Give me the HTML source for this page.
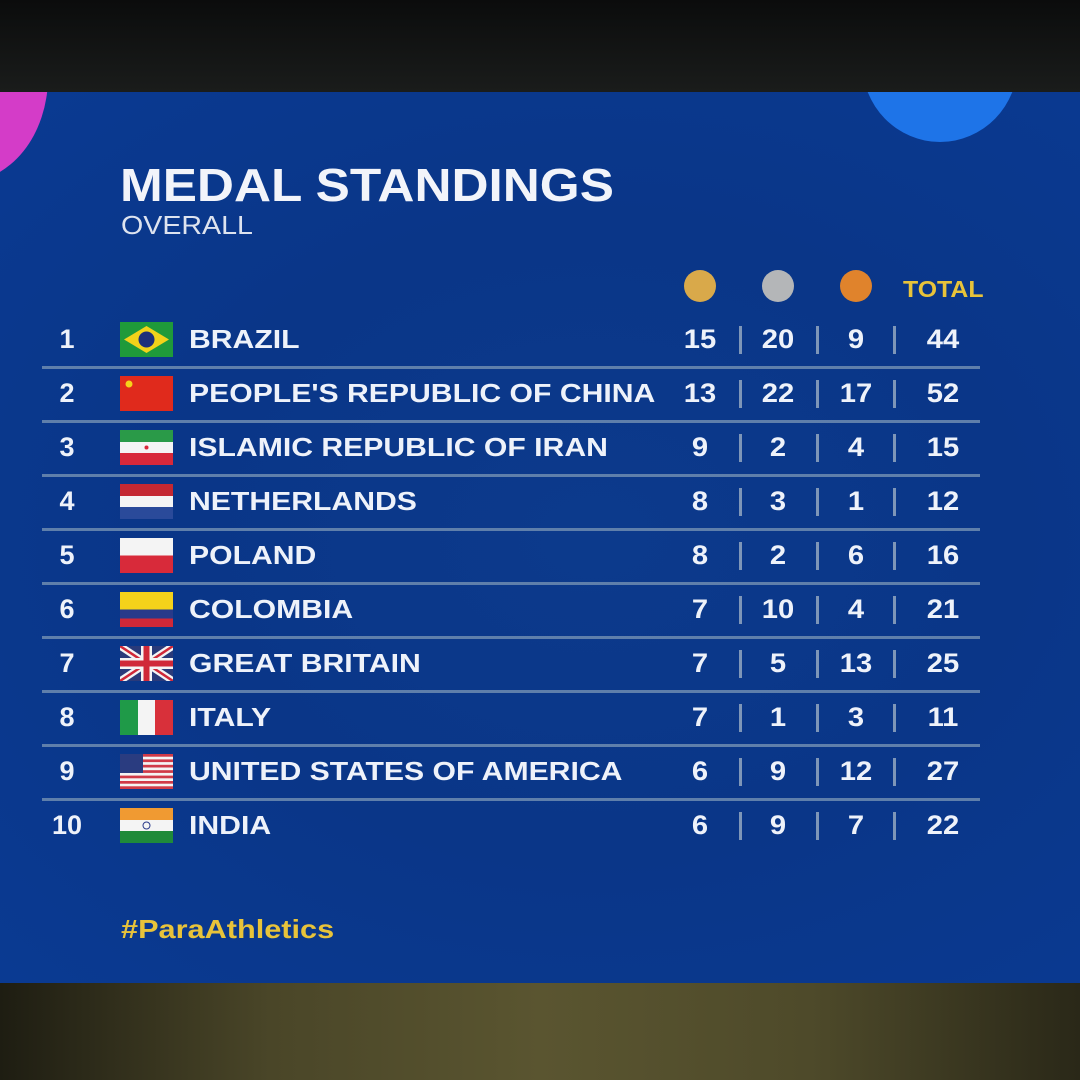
<!DOCTYPE html>
<html><head><meta charset="utf-8"><style>
*{margin:0;padding:0;box-sizing:border-box}
body{width:1080px;height:1080px;position:relative;overflow:hidden;background:#0d0f10;font-family:"Liberation Sans",sans-serif}
#top{position:absolute;left:0;top:0;width:1080px;height:92px;background:linear-gradient(#0b0c0c,#1a1c1b)}
#bot{position:absolute;left:0;top:983px;width:1080px;height:97px;background:linear-gradient(90deg,#1e1d12 0%,#4a4628 25%,#5a5530 50%,#4e4a2a 75%,#2a2818 100%)}
#panel{position:absolute;left:0;top:92px;width:1080px;height:891px;background:radial-gradient(ellipse at 55% 50%,#0c3a8c 0%,#0a3688 50%,#0a3a92 100%);overflow:hidden}
.pink{position:absolute;left:-120px;top:-120px;width:168px;height:210px;border-radius:50%;background:#d43cc8}
.blue{position:absolute;left:862px;top:-110px;width:156px;height:160px;border-radius:50%;background:#1e74e8}
.t{position:absolute;color:#f2f4fa;font-weight:bold;white-space:nowrap;transform-origin:left center}
.line{position:absolute;left:42px;width:938px;height:3px;background:#5f7fab}
.sep{position:absolute;width:3px;height:28px;background:#7e96b8}
.num{position:absolute;width:70px;text-align:center;color:#eef2fa;font-weight:bold;font-size:27px;transform:scaleX(1.08)}
.rk{position:absolute;width:50px;text-align:center;color:#eef2fa;font-weight:bold;font-size:27px;left:42px}
.nm{position:absolute;left:189px;color:#eef2fa;font-weight:bold;font-size:26px;white-space:nowrap;transform:scaleX(1.16);transform-origin:left center}
.fl{position:absolute;left:120px;width:53px;height:35px}
.dot{position:absolute;width:32px;height:32px;border-radius:50%;top:270px}
</style></head><body>
<div id="top"></div>
<div id="panel"><div class="pink"></div><div class="blue"></div></div>
<div id="bot"></div>
<div class="t" style="left:120px;top:158px;font-size:46px;transform:scaleX(1.115)">MEDAL STANDINGS</div>
<div class="t" style="left:121px;top:210px;font-size:26px;font-weight:normal;color:#dde3ef;transform:scaleX(1.1)">OVERALL</div>
<div class="dot" style="left:684px;background:#d9a94a"></div>
<div class="dot" style="left:762px;background:#b4b6b8"></div>
<div class="dot" style="left:840px;background:#e0832c"></div>
<div class="t" style="left:903px;top:276px;font-size:23px;color:#e8c33a;transform:scaleX(1.08)">TOTAL</div>
<div class="t" style="left:121px;top:914px;font-size:26px;color:#e8c33a;transform:scaleX(1.18)">#ParaAthletics</div>
<div id="rows"></div>
<script>
var d=[["BRAZIL",15,20,9,44],["PEOPLE'S REPUBLIC OF CHINA",13,22,17,52],["ISLAMIC REPUBLIC OF IRAN",9,2,4,15],["NETHERLANDS",8,3,1,12],["POLAND",8,2,6,16],["COLOMBIA",7,10,4,21],["GREAT BRITAIN",7,5,13,25],["ITALY",7,1,3,11],["UNITED STATES OF AMERICA",6,9,12,27],["INDIA",6,9,7,22]];
var f=[
'<rect width="53" height="35" fill="#1f9a3a"/><polygon points="26.5,4 49,17.5 26.5,31 4,17.5" fill="#f2d21a"/><circle cx="26.5" cy="17.5" r="8" fill="#1d2f7a"/>',
'<rect width="53" height="35" fill="#e02a1c"/><circle cx="9" cy="8" r="3.5" fill="#f6d21a"/>',
'<rect width="53" height="12" fill="#2a9a48"/><rect y="12" width="53" height="11" fill="#f4f4f4"/><rect y="23" width="53" height="12" fill="#d8283a"/><circle cx="26.5" cy="17.5" r="2" fill="#d8283a"/>',
'<rect width="53" height="12" fill="#c42832"/><rect y="12" width="53" height="11" fill="#f4f4f4"/><rect y="23" width="53" height="12" fill="#2a4a9a"/>',
'<rect width="53" height="17.5" fill="#f4f4f4"/><rect y="17.5" width="53" height="17.5" fill="#d82a3a"/>',
'<rect width="53" height="17.5" fill="#f4d21a"/><rect y="17.5" width="53" height="9" fill="#283a8a"/><rect y="26.5" width="53" height="8.5" fill="#d02838"/>',
'<rect width="53" height="35" fill="#2a3a7a"/><path d="M0 0L53 35M53 0L0 35" stroke="#f4f4f4" stroke-width="7"/><path d="M0 0L53 35M53 0L0 35" stroke="#d02838" stroke-width="2.5"/><rect x="21" width="11" height="35" fill="#f4f4f4"/><rect y="12" width="53" height="11" fill="#f4f4f4"/><rect x="23.5" width="6" height="35" fill="#d02838"/><rect y="14.5" width="53" height="6" fill="#d02838"/>',
'<rect width="18" height="35" fill="#1f9a48"/><rect x="18" width="17" height="35" fill="#f4f4f4"/><rect x="35" width="18" height="35" fill="#d8303a"/>',
'<rect width="53" height="35" fill="#f4f4f4"/><g fill="#d03a48"><rect y="0" width="53" height="2.7"/><rect y="5.4" width="53" height="2.7"/><rect y="10.8" width="53" height="2.7"/><rect y="16.2" width="53" height="2.7"/><rect y="21.6" width="53" height="2.7"/><rect y="27" width="53" height="2.7"/><rect y="32.3" width="53" height="2.7"/></g><rect width="23" height="19" fill="#2a3c80"/>',
'<rect width="53" height="12" fill="#f09a32"/><rect y="12" width="53" height="11" fill="#f4f4f4"/><rect y="23" width="53" height="12" fill="#1f8a3a"/><circle cx="26.5" cy="17.5" r="3.5" fill="none" stroke="#2a3a8a" stroke-width="1"/>'];
var h='',cx=[700,778,856,943];
for(var i=0;i<10;i++){var c=340+54*i;
h+='<div class="rk" style="top:'+(c-16)+'px">'+(i+1)+'</div>';
h+='<svg class="fl" style="top:'+(c-18)+'px" viewBox="0 0 53 35">'+f[i]+'</svg>';
h+='<div class="nm" style="top:'+(c-16)+'px">'+d[i][0]+'</div>';
for(var j=0;j<4;j++)h+='<div class="num" style="left:'+(cx[j]-35)+'px;top:'+(c-16)+'px">'+d[i][j+1]+'</div>';
[740,817,894].forEach(function(x){h+='<div class="sep" style="left:'+(x-1)+'px;top:'+(c-14)+'px"></div>'});
if(i<9)h+='<div class="line" style="top:'+(c+26)+'px"></div>';}
document.getElementById('rows').innerHTML=h;
</script>
</body></html>
